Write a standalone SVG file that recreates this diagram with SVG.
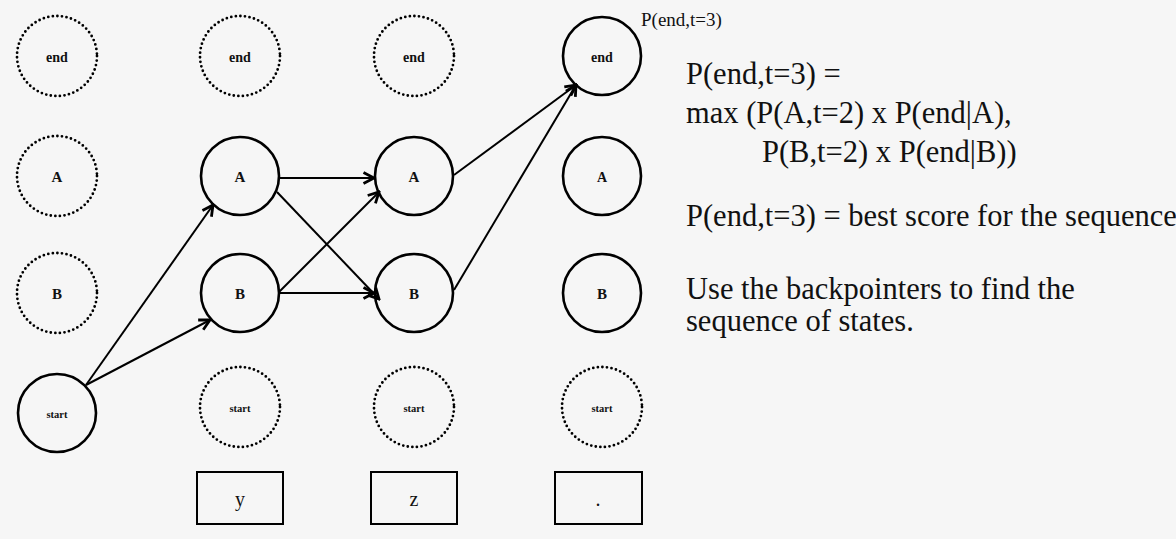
<svg xmlns="http://www.w3.org/2000/svg" width="1176" height="539" viewBox="0 0 1176 539">
<style>
.solid{fill:none;stroke:#000;stroke-width:2.6}
.dot{fill:none;stroke:#000;stroke-width:2.8;stroke-dasharray:0 4.6;stroke-linecap:round}
.lbl{font-family:"Liberation Serif",serif;font-weight:bold;font-size:14px;text-anchor:middle;fill:#111}
.big{font-size:15px}
.sm{font-size:10.5px}
.box{fill:none;stroke:#000;stroke-width:2}
.obs{font-family:"Liberation Serif",serif;font-size:20px;text-anchor:middle;fill:#111}
.edge{stroke:#000;stroke-width:2;fill:none;marker-end:url(#ah)}
.txt{font-family:"Liberation Serif",serif;font-size:30.5px;fill:#111}
</style>
<defs>
<marker id="ah" viewBox="0 0 14 14" refX="12" refY="7" markerWidth="14" markerHeight="14" markerUnits="userSpaceOnUse" orient="auto">
<path d="M1.5,1.5 L12,7 L1.5,12.5" fill="none" stroke="#000" stroke-width="2.8" stroke-linejoin="miter"/>
</marker>
</defs>
<rect width="1176" height="539" fill="#f6f6f6"/>
<g id="col0">
<g id="n0end"><circle class="dot" cx="57" cy="56" r="40"/><text class="lbl" x="57" y="62">end</text></g>
<g id="n0A"><circle class="dot" cx="57" cy="176" r="40"/><text class="lbl big" x="57" y="182">A</text></g>
<g id="n0B"><circle class="dot" cx="57" cy="293" r="40"/><text class="lbl big" x="57" y="299">B</text></g>
<g id="n0start"><circle class="solid" cx="57" cy="413" r="39"/><text class="lbl sm" x="57" y="418">start</text></g>
</g>
<g id="col1">
<g id="n1end"><circle class="dot" cx="240" cy="56" r="40"/><text class="lbl" x="240" y="62">end</text></g>
<g id="n1A"><circle class="solid" cx="240" cy="176" r="39"/><text class="lbl big" x="240" y="182">A</text></g>
<g id="n1B"><circle class="solid" cx="240" cy="293" r="39"/><text class="lbl big" x="240" y="299">B</text></g>
<g id="n1start"><circle class="dot" cx="240" cy="407" r="40"/><text class="lbl sm" x="240" y="412">start</text></g>
<g id="o1"><rect class="box" x="197" y="472" width="86" height="52"/><text class="obs" x="240" y="506">y</text></g>
</g>
<g id="col2">
<g id="n2end"><circle class="dot" cx="414" cy="56" r="40"/><text class="lbl" x="414" y="62">end</text></g>
<g id="n2A"><circle class="solid" cx="414" cy="176" r="39"/><text class="lbl big" x="414" y="182">A</text></g>
<g id="n2B"><circle class="solid" cx="414" cy="293" r="39"/><text class="lbl big" x="414" y="299">B</text></g>
<g id="n2start"><circle class="dot" cx="414" cy="407" r="40"/><text class="lbl sm" x="414" y="412">start</text></g>
<g id="o2"><rect class="box" x="371" y="472" width="86" height="52"/><text class="obs" x="414" y="506">z</text></g>
</g>
<g id="col3">
<g id="n3end"><circle class="solid" cx="602" cy="56" r="39"/><text class="lbl" x="602" y="62">end</text></g>
<g id="n3A"><circle class="solid" cx="602" cy="176" r="39"/><text class="lbl" x="602" y="182">A</text></g>
<g id="n3B"><circle class="solid" cx="602" cy="293" r="39"/><text class="lbl big" x="602" y="299">B</text></g>
<g id="n3start"><circle class="dot" cx="602" cy="407" r="40"/><text class="lbl sm" x="602" y="412">start</text></g>
<g id="o3"><rect class="box" x="555" y="472" width="87" height="52"/><text class="obs" x="598" y="506">.</text></g>
</g>
<g id="connectors">
<line class="edge" x1="86" y1="385" x2="213" y2="205"/>
<line class="edge" x1="86" y1="385" x2="210" y2="320"/>
<line class="edge" x1="279" y1="178" x2="374" y2="178"/>
<line class="edge" x1="277" y1="192" x2="379" y2="299"/>
<line class="edge" x1="279" y1="292" x2="379" y2="192"/>
<line class="edge" x1="279" y1="293" x2="374" y2="293"/>
<line class="edge" x1="454" y1="175" x2="576" y2="85"/>
<line class="edge" x1="454" y1="290" x2="576" y2="85"/>
</g>
<g id="notes">
<text class="txt" x="641" y="26" style="font-size:19px">P(end,t=3)</text>
<text class="txt" x="686" y="84">P(end,t=3) =</text>
<text class="txt" x="686" y="123">max (P(A,t=2) x P(end|A),</text>
<text class="txt" x="762" y="162">P(B,t=2) x P(end|B))</text>
<text class="txt" x="686" y="226">P(end,t=3) = best score for the sequence</text>
<text class="txt" x="686" y="299">Use the backpointers to find the</text>
<text class="txt" x="686" y="331">sequence of states.</text>
</g>
</svg>
